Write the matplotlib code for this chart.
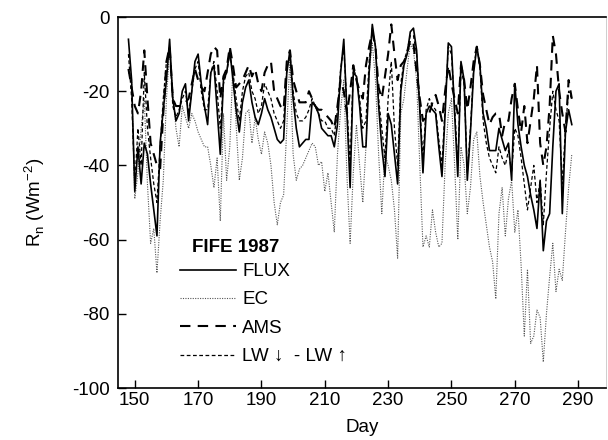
import matplotlib
matplotlib.use("Agg")
import matplotlib.pyplot as plt

plt.rcParams['font.family'] = ['Liberation Sans', 'DejaVu Sans']
plt.rcParams['axes.unicode_minus'] = False

# ---------------- data (daily values, day 148 .. 288) ----------------
days = list(range(148, 289))

flux_vals = [
    -6, -17, -47, -35, -45, -34, -37, -45, -52, -59,     # 148-157
    -34, -25, -17, -6, -22, -28, -26, -20, -18, -28,     # 158-167
    -20, -12, -10, -18, -24, -29, -15, -13, -25, -37,    # 168-177
    -17, -15, -9, -17, -25, -31, -23, -19, -17, -23,     # 178-187
    -27, -29, -26, -22, -25, -27, -30, -33, -34, -33,    # 188-197
    -15, -9, -22, -30, -35, -34, -33, -33, -23, -24,     # 198-207
    -26, -30, -31, -32, -32, -35, -29, -15, -6, -26,     # 208-217
    -46, -15, -16, -24, -35, -35, -15, -2, -8, -24,      # 218-227
    -35, -43, -26, -29, -37, -45, -20, -13, -10, -4,     # 228-237
    -3, -9, -25, -42, -26, -24, -25, -26, -35, -43,      # 238-247
    -26, -7, -8, -26, -43, -12, -17, -44, -31, -15,      # 248-257
    -8, -13, -26, -30, -36, -36, -36, -30, -33, -36,     # 258-267
    -34, -44, -18, -29, -35, -40, -43, -48, -52, -57,    # 268-277
    -44, -63, -55, -53, -35, -20, -18, -53, -31, -25,    # 278-287
    -29]                                                 # 288

ec_vals = [
    -15, -17, -49, -42, -30, -22, -45, -61, -57, -69,
    -55, -44, -22, -9, -20, -30, -35, -24, -27, -30,
    -26, -28, -31, -33, -35, -35, -40, -46, -38, -55,
    -26, -44, -35, -13, -29, -44, -38, -26, -25, -34,
    -27, -33, -37, -31, -34, -40, -50, -56, -50, -48,
    -30, -11, -37, -44, -41, -40, -38, -36, -34, -35,
    -40, -39, -47, -42, -50, -58, -37, -25, -17, -43,
    -61, -42, -29, -40, -50, -35, -15, -7, -17, -37,
    -53, -37, -40, -44, -52, -65, -26, -22, -14, -7,
    -9, -17, -40, -62, -59, -62, -52, -58, -62, -61,
    -40, -26, -22, -40, -60, -35, -40, -53, -46, -33,
    -31, -43, -50, -56, -62, -66, -76, -53, -46, -59,
    -49, -44, -58, -52, -67, -86, -68, -88, -86, -79,
    -81, -93, -80, -70, -61, -74, -68, -71, -58, -46,
    -37]

ams_vals = [
    -14, -19, -24, -26, -20, -9, -22, -34, -37, -40,
    -41, -26, -12, -8, -22, -24, -24, -24, -23, -22,
    -18, -14, -17, -19, -20, -15, -10, -8, -9, -22,
    -16, -14, -8, -13, -19, -18, -17, -15, -13, -16,
    -14, -18, -20, -15, -13, -12, -20, -22, -24, -25,
    -12, -9, -17, -20, -23, -23, -23, -20, -22, -24,
    -25, -25, -26, -27, -28, -30, -24, -17, -20, -26,
    -20, -13, -17, -20, -22, -13, -8, -4, -8, -19,
    -22, -16, -10, -2, -10, -17, -13, -12, -10, -6,
    -7, -15, -22, -28, -27, -26, -23, -21, -24, -28,
    -20, -13, -18, -22, -26, -13, -17, -25, -19, -12,
    -8, -13, -21, -25, -29, -27, -26, -26, -32, -28,
    -28, -22, -18, -25, -31, -24, -34, -28, -22, -13,
    -34, -40, -35, -24, -5, -10, -20, -26, -31, -17,
    -22]

lw_vals = [
    -10, -22, -45, -30, -40, -15, -30, -38, -45, -50,
    -35, -22, -12, -8, -24, -27, -25, -22, -20, -26,
    -20, -14, -12, -20, -25, -25, -15, -12, -20, -30,
    -18, -15, -10, -15, -22, -28, -20, -16, -15, -20,
    -22, -26, -24, -18, -20, -22, -26, -28, -30, -28,
    -14, -10, -20, -26, -28, -28, -27, -25, -22, -24,
    -26, -28, -28, -30, -30, -32, -25, -14, -8, -24,
    -40, -14, -16, -22, -30, -28, -12, -3, -8, -22,
    -30, -38, -22, -12, -30, -40, -18, -12, -9, -5,
    -5, -10, -24, -38, -25, -22, -24, -25, -33, -40,
    -24, -8, -10, -24, -40, -14, -18, -42, -30, -14,
    -8, -14, -28, -34, -38, -40, -42, -35, -38, -40,
    -36, -42, -30, -32, -38, -45, -52, -46, -40, -50,
    -44, -56, -42, -30, -20, -25, -28, -45, -30, -20,
    -22]

series_labels = ["FLUX", "EC", "AMS", "LW \u2193  - LW \u2191"]
legend_title = "FIFE 1987"
x_ticks = [150, 170, 190, 210, 230, 250, 270, 290]
y_ticks = [0, -20, -40, -60, -80, -100]

# ---------------- figure ----------------
fig = plt.figure(figsize=(6.08, 4.40), dpi=100)
ax = fig.add_axes([118/608, 1-388/440, (606-118)/608, (388-17)/440])

l_flux, = ax.plot(days, flux_vals, color='black', lw=1.2, ls='-', zorder=4)
l_ec, = ax.plot(days, ec_vals, color='#555555', lw=0.8, ls=(0, (1, 1.2)), zorder=2)
l_ams, = ax.plot(days, ams_vals, color='black', lw=1.5, ls=(0, (5, 3.5)), zorder=3)
l_lw, = ax.plot(days, lw_vals, color='black', lw=0.9, ls=(0, (3, 2)), zorder=3)

ax.set_xlim(144.7, 298.8)
ax.set_ylim(-100, 0)
ax.set_xticks(x_ticks)
ax.set_yticks(y_ticks)
ax.tick_params(direction='in', length=6, width=1, labelsize=13.5,
               top=False, right=False)
ax.tick_params(axis='x', pad=3)
ax.tick_params(axis='y', pad=6)
for s in ax.spines.values():
    s.set_linewidth(1.2)
ax.spines['right'].set_linewidth(0.5)
ax.spines['right'].set_color('#bbbbbb')

ax.set_xlabel("Day", fontsize=13.5, labelpad=7)
ax.set_ylabel("R$_\\mathregular{n}$ (Wm$^\\mathregular{-2}$)", fontsize=13.5, labelpad=18)

leg = ax.legend([l_flux, l_ec, l_ams, l_lw], series_labels,
                loc='upper left', bbox_to_anchor=(0.127, 0.337), frameon=False,
                fontsize=13.5, handlelength=3.0, handletextpad=0.32,
                labelspacing=0.6, borderpad=0, borderaxespad=0)
ax.text(0.152, 0.38, legend_title, transform=ax.transAxes, fontsize=13.5,
        fontweight='bold', ha='left', va='center')

fig.savefig("out.png", dpi=100)
